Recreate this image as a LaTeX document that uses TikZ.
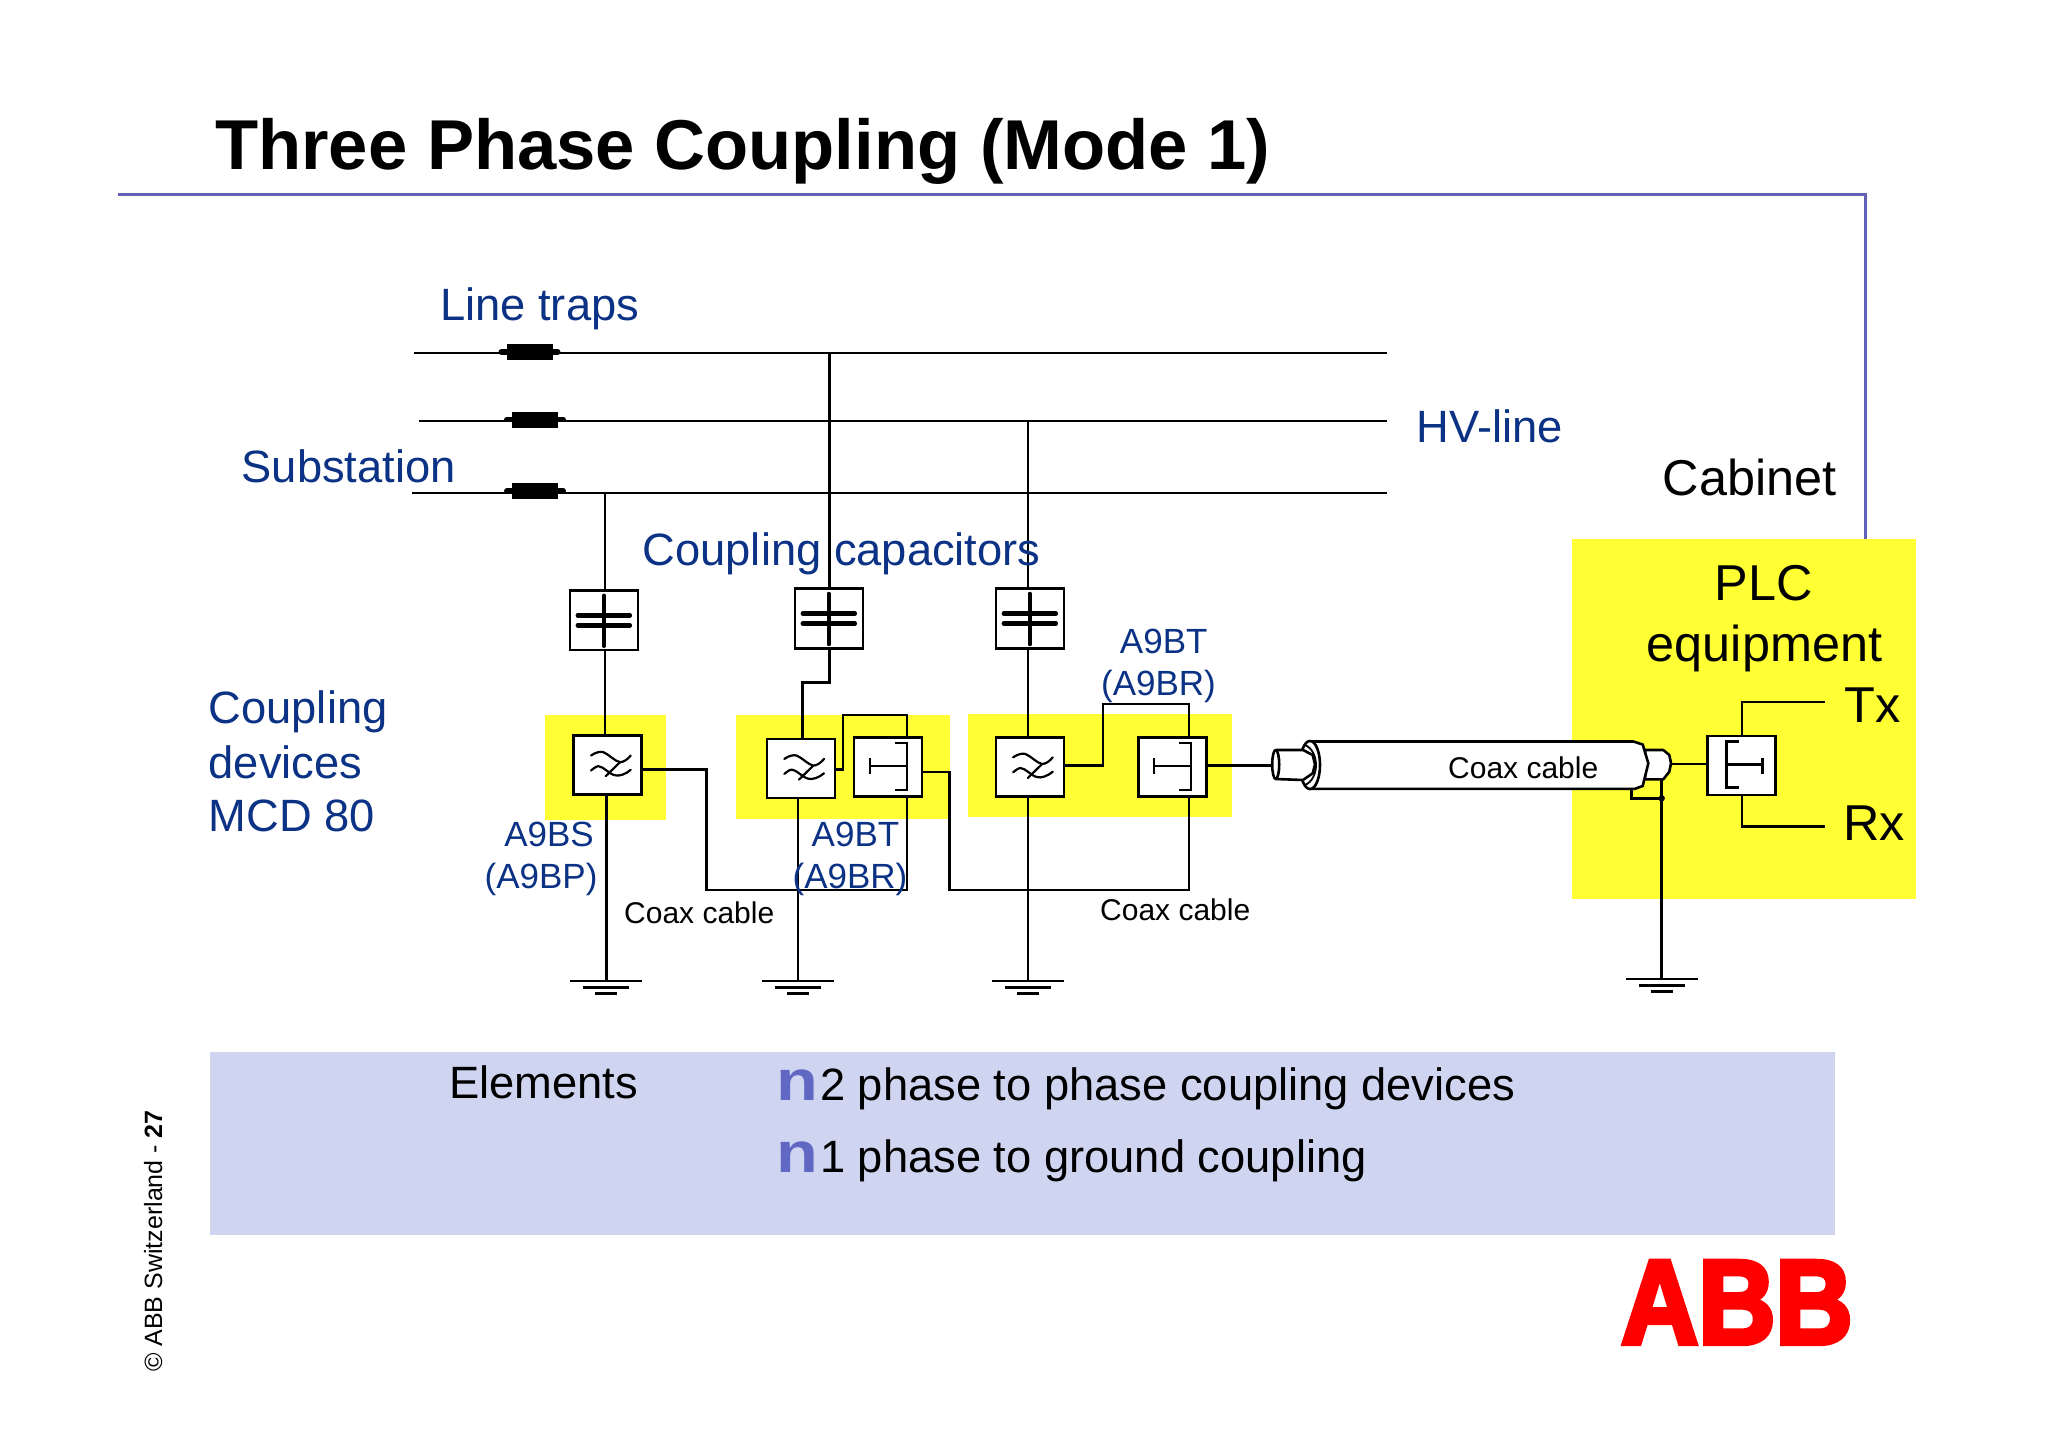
\documentclass[tikz,border=0pt]{standalone}
\usepackage{fontspec}
\setmainfont{Liberation Sans}
\newfontfamily\abbfont[FakeStretch=0.89,BoldFeatures={FakeBold=4}]{Liberation Sans}
\newfontfamily\bulfont[FakeStretch=1.2]{Liberation Sans}
\definecolor{plcyellow}{HTML}{FFFF33}
\definecolor{txtblue}{HTML}{0B3285}
\definecolor{rulecol}{HTML}{6262B8}
\definecolor{panelcol}{HTML}{CFD4F0}
\definecolor{bulletcol}{HTML}{6068C4}
\definecolor{abbred}{HTML}{FF0000}
\newcommand{\fsz}[1]{\fontsize{#1}{#1}\selectfont}
\tikzset{
  wire/.style={line width=2.5pt,black,line join=miter},
  devbox/.style={draw=black,fill=white,line width=2.6pt,inner sep=0pt,minimum width=68pt,minimum height=59pt},
  capbox/.style={draw=black,fill=white,line width=2.6pt,inner sep=0pt,minimum width=68pt,minimum height=59.5pt},
  bluetxt/.style={anchor=base west,inner sep=0pt,text=txtblue,font=\fsz{45.3}},
  bluesmall/.style={anchor=base,inner sep=0pt,text=txtblue,font=\fsz{35}},
  blacktxt/.style={anchor=base west,inner sep=0pt,text=black,font=\fsz{50.4}},
  elemtxt/.style={anchor=base west,inner sep=0pt,text=black,font=\fsz{45.3}},
  coaxtxt/.style={anchor=base west,inner sep=0pt,text=black,font=\fsz{30}},
  bullettxt/.style={anchor=base west,inner sep=0pt,text=bulletcol,font=\bulfont\fsz{57}\bfseries},
  yellowblock/.style={fill=plcyellow,draw=none},
  trapbody/.style={fill=black,draw=none,inner sep=0pt,minimum width=46pt,minimum height=16pt},
  coaxline/.style={line width=2.6pt,draw=black,fill=white,line join=round},
  earthsym/.pic={
    \draw[wire] (-36,0) -- (36,0);
    \draw[wire] (-23,6.3) -- (23,6.3);
    \draw[wire] (-11,12.5) -- (11,12.5);
  },
  capsym/.pic={
    \draw[line width=4.5pt,line cap=round] (-26,-5) -- (26,-5);
    \draw[line width=4.5pt,line cap=round] (-26,5) -- (26,5);
    \draw[line width=3.4pt,line cap=round] (0,-25) -- (0,26);
  },
  filtsym/.pic={
    \draw[line width=2.2pt,line cap=round,line join=round]
      (-16.7,-9.7) .. controls (-12,-13) and (-7,-14) .. (-4.3,-13)
      .. controls (1,-11) and (7,-4) .. (12.3,-3)
      .. controls (16,-3) and (20,-6) .. (23,-9.7);
    \draw[line width=2.2pt,line cap=round,line join=round]
      (-16.7,5.3) .. controls (-14,3) and (-11,1) .. (-9.3,1)
      .. controls (-5,1) and (2,9) .. (7,10)
      .. controls (11,11.5) and (18,9) .. (23,4.7);
    \draw[line width=2.2pt,line cap=round] (12.3,-3) -- (-2,11);
  },
  teeright/.pic={
    \draw[line width=2.2pt] (-18,-1) -- (19,-1);
    \draw[line width=2.2pt] (-18,-9) -- (-18,7);
    \draw[line width=2.2pt] (7,-24) -- (19,-24) -- (19,23) -- (7,23);
  },
  teeleft/.pic={
    \draw[line width=2.2pt] (-15,-1) -- (21,-1);
    \draw[line width=2.2pt] (21,-8) -- (21,8);
    \draw[line width=2.2pt] (-3,-24) -- (-15,-24) -- (-15,22) -- (-3,22);
  },
}
\begin{document}
\begin{tikzpicture}[x=1pt,y=-1pt]
\useasboundingbox (0,0) rectangle (2048,1447);
\fill[white] (0,0) rectangle (2048,1447);

% header
\node[anchor=base west,inner sep=0pt,font=\fsz{70.6}\bfseries] (title) at (215,170) {Three Phase Coupling (Mode 1)};
\coordinate (ruleA) at (118,194.5);
\coordinate (ruleB) at (1865,194.5);
\coordinate (ruleC) at (1865,539);
\draw[rulecol,line width=3pt] (ruleA) -- (ruleB) -- (ruleC);

% yellow blocks and panel
\fill[yellowblock] (544.5,715.3) rectangle (665.5,819.8);
\fill[yellowblock] (735.8,714.7) rectangle (949.8,818.8);
\fill[yellowblock] (968,713.7) rectangle (1231.7,817);
\fill[yellowblock] (1571.7,539) rectangle (1916.3,898.8);
\fill[panelcol] (210,1051.5) rectangle (1835,1235);

% named anchors
\coordinate (hv1a) at (414,353); \coordinate (hv1b) at (1387,353);
\coordinate (hv2a) at (419,420.8); \coordinate (hv2b) at (1387,420.8);
\coordinate (hv3a) at (412,492.8); \coordinate (hv3b) at (1387,492.8);
\coordinate (t1) at (605,492.8);
\coordinate (t2) at (829.5,353);
\coordinate (t3) at (1027.8,420.8);

% devices
\node[capbox] (cap1) at (603.8,620.3) {};
\node[capbox] (cap2) at (828.8,618.5) {};
\node[capbox] (cap3) at (1029.8,618.5) {};
\node[devbox] (flt1) at (607.7,765.2) {};
\node[devbox] (flt2) at (801,768.6) {};
\node[devbox] (tb2) at (887.8,767) {};
\node[devbox] (flt3) at (1029.8,767) {};
\node[devbox] (tb3) at (1172.2,767) {};
\node[devbox] (tb4) at (1741.5,765.5) {};
\coordinate (g1) at (606.3,981.2);
\coordinate (g2) at (798.2,981.2);
\coordinate (g3) at (1027.8,981.2);
\coordinate (g4) at (1661.7,979);

% HV lines
\draw[wire] (hv1a) -- (hv1b);
\draw[wire] (hv2a) -- (hv2b);
\draw[wire] (hv3a) -- (hv3b);
% line traps
\node[trapbody] (trap1) at (529.5,352) {};
\node[trapbody] (trap2) at (535,419.5) {};
\node[trapbody] (trap3) at (535,491) {};
\draw[line width=5.5pt,line cap=round] ([xshift=-5pt]trap1.west) -- ([xshift=5pt]trap1.east);
\draw[line width=5.5pt,line cap=round] ([xshift=-5pt]trap2.west) -- ([xshift=5pt]trap2.east);
\draw[line width=5.5pt,line cap=round] ([xshift=-5pt]trap3.west) -- ([xshift=5pt]trap3.east);

% column wires
\draw[wire] (t1) -- (t1 |- cap1.north);
\draw[wire] (t1 |- cap1.south) -- (t1 |- flt1.north);
\draw[wire] (g1 |- flt1.south) -- (g1);
\coordinate (bend2a) at (829.5,682.3);
\coordinate (bend2b) at (802.4,682.3);
\draw[wire] (t2) -- (t2 |- cap2.north);
\draw[wire] (bend2a |- cap2.south) -- (bend2a) -- (bend2b) -- (bend2b |- flt2.north);
\draw[wire] (g2 |- flt2.south) -- (g2);
\draw[wire] (t3) -- (t3 |- cap3.north);
\draw[wire] (t3 |- cap3.south) -- (t3 |- flt3.north);
\draw[wire] (t3 |- flt3.south) -- (g3);

% coax jumpers
\coordinate (j1) at (706.4,769.3);
\coordinate (j1b) at (706.4,889.8);
\coordinate (x2) at (907,889.8);
\draw[wire] (flt1.east |- j1) -- (j1) -- (j1b) -- (x2) -- (x2 |- tb2.south);
\coordinate (l2a) at (842.8,769.3);
\coordinate (l2b) at (842.8,715);
\coordinate (l2c) at (907,715);
\draw[wire] (flt2.east |- l2a) -- (l2a) -- (l2b) -- (l2c) -- (l2c |- tb2.north);
\coordinate (r2a) at (949.3,772);
\coordinate (r2b) at (949.3,889.8);
\coordinate (x3) at (1189,889.8);
\draw[wire] (tb2.east |- r2a) -- (r2a) -- (r2b) -- (x3) -- (x3 |- tb3.south);
\coordinate (l3a) at (1103,765.7);
\coordinate (l3b) at (1103,703.8);
\coordinate (l3c) at (1189,703.8);
\draw[wire] (flt3.east |- l3a) -- (l3a) -- (l3b) -- (l3c) -- (l3c |- tb3.north);
\coordinate (cxl) at (1273,765.7);
\draw[wire] (tb3.east |- cxl) -- (cxl);

% redraw device boxes over the wires
\node[capbox] at (cap1) {}; \node[capbox] at (cap2) {}; \node[capbox] at (cap3) {};
\node[devbox] at (flt1) {}; \node[devbox] at (flt2) {}; \node[devbox] at (tb2) {};
\node[devbox] at (flt3) {}; \node[devbox] at (tb3) {}; \node[devbox] at (tb4) {};
\pic at (cap1) {capsym};
\pic at (cap2) {capsym};
\pic at (cap3) {capsym};
\pic at (flt1) {filtsym};
\pic at (flt2) {filtsym};
\pic at (flt3) {filtsym};
\pic at (tb2) {teeright};
\pic at (tb3) {teeright};
\pic at (tb4) {teeleft};
\pic at (g1) {earthsym};
\pic at (g2) {earthsym};
\pic at (g3) {earthsym};
\pic at (g4) {earthsym};

% coax cable
\coordinate (cjump) at (1631.7,788);
\coordinate (cjumpb) at (1631.7,798.3);
\coordinate (cgnd) at (1661.7,779.3);
\coordinate (cjunct) at (1661.7,798.3);
\draw[wire] (cjump) -- (cjumpb) -- (cjunct);
\draw[wire] (cgnd) -- (g4);
\fill (cjunct) circle (3.2pt);
\coordinate (cxr) at (1671,764);
\draw[wire] (cxr) -- (cxr -| tb4.west);
\draw[coaxline] (1645,750) -- (1663.3,750) -- (1669.3,755) -- (1671,763.3) -- (1669.3,771.7) -- (1663.3,779.3) -- (1645,779.3) -- cycle;
\draw[coaxline] (1309,741.5) -- (1633.3,741.5) -- (1642.7,744.5) -- (1648.3,763.3) -- (1642.7,786) -- (1635,788.8) -- (1309,788.8);
\draw[coaxline] (1310,765) ellipse [x radius=10,y radius=24];
\draw[line width=1.8pt] (1305,745) .. controls (1312,748) and (1316,756) .. (1316,765) .. controls (1316,774) and (1312,782) .. (1305,785);
\draw[coaxline] (1275.7,750) -- (1303,750) -- (1312.7,755) -- (1315,764.3) -- (1312.7,773.3) -- (1303,780) -- (1275.7,779) -- cycle;
\draw[coaxline] (1275.7,764.5) ellipse [x radius=3.5,y radius=14.5];

% tx rx
\coordinate (txa) at (1742.2,701.8);
\coordinate (txb) at (1824.8,701.8);
\coordinate (rxa) at (1742.2,826.5);
\coordinate (rxb) at (1824.8,826.5);
\draw[wire] (txa |- tb4.north) -- (txa) -- (txb);
\draw[wire] (rxa |- tb4.south) -- (rxa) -- (rxb);

% labels
\node[bluetxt] (lt) at (440,320) {Line traps};
\node[bluetxt] (sub) at (241.5,482) {Substation};
\node[bluetxt] (hv) at (1416.5,442.5) {HV-line};
\node[bluetxt] (cc) at (642.5,565.5) {Coupling capacitors};
\node[bluetxt] (cd1) at (208.5,723) {Coupling};
\node[bluetxt] (cd2) at (208.5,778) {devices};
\node[bluetxt] (cd3) at (208.5,831.5) {MCD 80};
\node[bluesmall] (a1) at (549,846) {A9BS};
\node[bluesmall] (a2) at (541,888) {(A9BP)};
\node[bluesmall] (a3) at (855.5,846) {A9BT};
\node[bluesmall] (a4) at (850,888) {(A9BR)};
\node[bluesmall] (a5) at (1163.7,653) {A9BT};
\node[bluesmall] (a6) at (1158.5,695) {(A9BR)};
\node[coaxtxt] (cx1) at (624,923) {Coax cable};
\node[coaxtxt] (cx2) at (1100,920.7) {Coax cable};
\node[coaxtxt] (cx3) at (1448,778) {Coax cable};
\node[blacktxt] (cab) at (1662.5,495) {Cabinet};
\node[blacktxt,anchor=base] (plc1) at (1764,600) {PLC};
\node[blacktxt,anchor=base] (plc2) at (1764.5,661) {equipment};
\node[blacktxt] (tx) at (1844,722) {Tx};
\node[blacktxt] (rx) at (1843,840) {Rx};
\node[elemtxt] (el) at (449,1098) {Elements};
\node[bullettxt] (b1) at (776,1100) {n};
\node[elemtxt] (el1) at (820,1100.5) {2 phase to phase coupling devices};
\node[bullettxt] (b2) at (776,1172) {n};
\node[elemtxt] (el2) at (820,1172) {1 phase to ground coupling};
\node[anchor=base west,inner sep=0pt,rotate=90,font=\fsz{25}] (copy) at (162,1372) {© ABB Switzerland - \textbf{27}};
\node[anchor=base west,inner sep=0pt,text=abbred,font=\abbfont\fsz{120}\bfseries] (abb) at (1621,1343.7) {ABB};
\end{tikzpicture}
\end{document}
